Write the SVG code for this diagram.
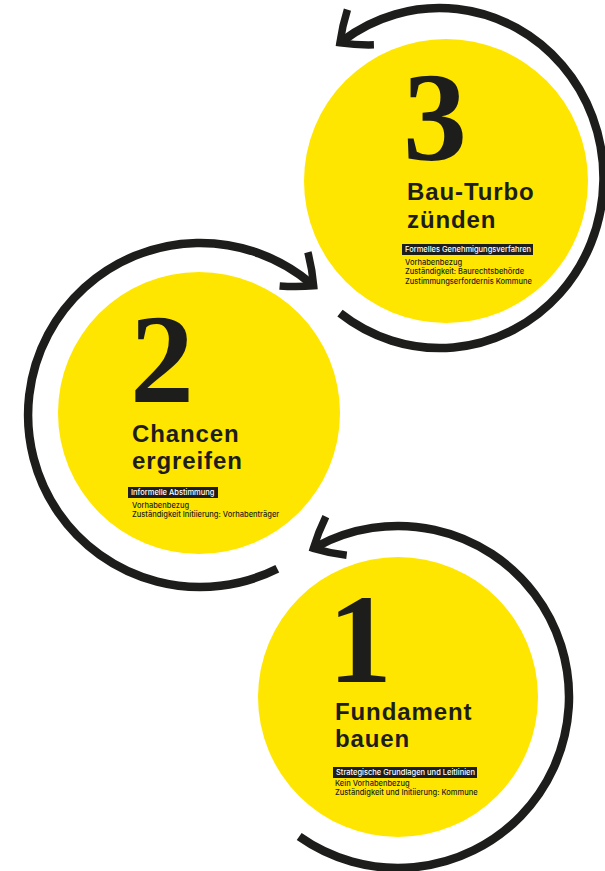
<svg xmlns="http://www.w3.org/2000/svg" width="605" height="871" viewBox="0 0 605 871">
  <style>
    .disk { fill: #ffe600; }
    .ring { fill: none; stroke: #1d1d1b; stroke-width: 8.5; stroke-linecap: butt; marker-start: url(#head); }
    .num { font-family: "Liberation Serif", "DejaVu Serif", serif; font-weight: 700; font-size: 128px; fill: #1d1d1b; }
    .title { font-family: "Liberation Sans", Arial, sans-serif; font-weight: 700; font-size: 24px; letter-spacing: 0.9px; fill: #1d1d1b; }
    .tag { fill: #1d1d1b; }
    .tagtext { font-family: Inter, "Liberation Sans", sans-serif; font-weight: 500; font-size: 7.5px; fill: #ffffff; }
    .note { font-family: Inter, "Liberation Sans", sans-serif; font-weight: 500; font-size: 7.5px; fill: #1d1d1b; }
  </style>
  <defs>
    <!-- fork-shaped arrowhead with slightly flared arms, pointing along +x -->
    <marker id="head" markerUnits="userSpaceOnUse" orient="auto-start-reverse" viewBox="-35 -35 50 70" refX="0" refY="0" markerWidth="50" markerHeight="70" overflow="visible">
      <path d="M -22 -22 Q -8 -12 4 0 Q -8 12 -22 22" fill="none" stroke="#1d1d1b" stroke-width="7.5" stroke-linejoin="miter" stroke-miterlimit="10"/>
    </marker>
  </defs>

  <!-- circular connectors -->
  <g id="connectors">
    <path class="ring" d="M 343.1 40.5 A 164 170 0 1 1 340 313.2"/>
    <path class="ring" d="M 310.6 283.2 A 172 172 0 1 0 277.3 568.7"/>
    <path class="ring" d="M 316.9 546.4 A 171 171 0 1 1 299.2 836.5"/>
  </g>

  <!-- step 3 -->
  <g id="step3">
    <circle class="disk" cx="446" cy="181" r="142"/>
    <text class="num" x="403" y="160">3</text>
    <text class="title" x="407" y="200">Bau-Turbo</text>
    <text class="title" x="407" y="228">zünden</text>
    <rect class="tag" x="402" y="244" width="131" height="11"/>
    <text class="tagtext" x="405" y="252.3">Formelles Genehmigungsverfahren</text>
    <text class="note" x="405" y="264.5">Vorhabenbezug</text>
    <text class="note" x="405" y="274">Zuständigkeit: Baurechtsbehörde</text>
    <text class="note" x="405" y="283.5">Zustimmungserfordernis Kommune</text>
  </g>

  <!-- step 2 -->
  <g id="step2">
    <circle class="disk" cx="199" cy="413" r="141"/>
    <text class="num" x="130" y="402">2</text>
    <text class="title" x="132" y="442">Chancen</text>
    <text class="title" x="132" y="469">ergreifen</text>
    <rect class="tag" x="128" y="487" width="90" height="11"/>
    <text class="tagtext" x="131" y="495.3">Informelle Abstimmung</text>
    <text class="note" x="132" y="507.5">Vorhabenbezug</text>
    <text class="note" x="132" y="517">Zuständigkeit Initiierung: Vorhabenträger</text>
  </g>

  <!-- step 1 -->
  <g id="step1">
    <circle class="disk" cx="398" cy="697" r="140"/>
    <text class="num" x="328" y="682">1</text>
    <text class="title" x="335" y="720">Fundament</text>
    <text class="title" x="335" y="747">bauen</text>
    <rect class="tag" x="333" y="767" width="144" height="11"/>
    <text class="tagtext" x="336" y="775.3">Strategische Grundlagen und Leitlinien</text>
    <text class="note" x="335" y="786">Kein Vorhabenbezug</text>
    <text class="note" x="335" y="795">Zuständigkeit und Initiierung: Kommune</text>
  </g>
</svg>
